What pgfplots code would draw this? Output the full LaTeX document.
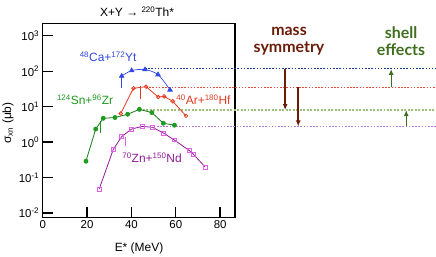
\documentclass[border=0pt]{standalone}
\usepackage{pgfplots}
\pgfplotsset{compat=1.18}
\usetikzlibrary{arrows.meta}
\usepackage{fontspec}
\setmainfont{Liberation Sans}
\newfontfamily\annfont{Lato}
\definecolor{cblue}{HTML}{3048E0}
\definecolor{cred}{HTML}{E23A22}
\definecolor{cgreen}{HTML}{1E9A1E}
\definecolor{cpurple}{HTML}{8E1A96}
\definecolor{cmag}{HTML}{E060E8}
\definecolor{dblue}{HTML}{1A3A9A}
\definecolor{dred}{HTML}{E84A3A}
\definecolor{dgreen}{HTML}{9CC078}
\definecolor{dpurple}{HTML}{B47AD8}
\definecolor{brown}{HTML}{6A1C08}
\definecolor{sgreen}{HTML}{3F6E1F}
\begin{document}
\begin{tikzpicture}[x=1bp,y=1bp]
\path[use as bounding box] (0,0) rectangle (436,256);
\begin{axis}[
  at={(42.7bp,38.7bp)}, anchor=south west,
  scale only axis, width=192.3bp, height=194bp,
  ymode=log, xmin=0, xmax=86.7, ymin=0.0076, ymax=2240,
  xtick={0,20,40,60,80},
  ytick={0.01,0.1,1,10,100,1000},
  yticklabels={10\textsuperscript{-2},10\textsuperscript{-1},10\textsuperscript{0},10\textsuperscript{1},10\textsuperscript{2},10\textsuperscript{3}},
  /pgf/number format/assume math mode=true,
  xticklabel style={font=\fontsize{11.5}{13}\selectfont},
  yticklabel style={font=\fontsize{11.5}{13}\selectfont},
  tick align=inside, tick pos=left,
  major tick length=10bp,
  every tick/.style={black, line width=1.3pt},
  minor tick num=0, log basis y=10,
  yminorticks=false,
  axis line style={line width=1.4pt},
  clip=false,
]
% error-bar like segments
\addplot[cblue, line width=0.7pt, forget plot] coordinates {(35.6,73) (35.6,33)};
\addplot[cred, line width=0.7pt, forget plot] coordinates {(44.2,39) (44.2,16.9)};
\addplot[cgreen, line width=0.7pt, forget plot] coordinates {(25.8,4.0) (25.8,1.8)};
\addplot[cmag, line width=0.7pt, forget plot] coordinates {(37.1,1.4) (37.1,0.8)};
% dotted reference levels
\addplot[dblue, line width=1pt, dash pattern=on 1.6pt off 1.6pt] coordinates {(46.1,116) (177.4,116)};
\addplot[dred, line width=1pt, dash pattern=on 1.6pt off 1.6pt] coordinates {(46.6,35.2) (177.4,35.2)};
\addplot[dgreen, line width=1.8pt, dash pattern=on 2pt off 1.5pt] coordinates {(43.6,8.05) (177.4,8.05)};
\addplot[dpurple, line width=0.6pt, dash pattern=on 1.6pt off 1.6pt] coordinates {(51.5,2.78) (177.4,2.78)};
% Ca + Yt
\addplot[cblue, line width=0.7pt, smooth, mark=triangle*, mark size=2.6pt, mark options={fill=cblue}]
  coordinates {(35.6,73) (40.1,104) (46.1,111) (52,80) (57.4,29.7)};
% Ar + Hf
\addplot[cred, line width=0.8pt, mark=o, mark size=1.8pt]
  coordinates {(35.2,6.4) (40.9,33) (46.6,36.6) (52.1,18.7) (54.7,19.5) (58.6,14.2) (64.6,5.5)};
% Sn + Zr
\addplot[cgreen!80!black, line width=0.8pt, mark=*, mark size=2pt, mark options={fill=cgreen, draw=cgreen}]
  coordinates {(19.5,0.29) (23.9,2.34) (27.3,4.7) (32.6,4.95) (38.3,6.1) (43.6,8.4) (49.2,6.8) (54.4,3.4) (59.4,3.0)};
% Zn + Nd
\addplot[cpurple, line width=0.8pt, mark=square, mark size=2pt, mark options={draw=cmag, line width=0.7pt}]
  coordinates {(25.5,0.048) (31.8,0.62) (35.6,1.43) (40.1,2.34) (44.9,2.78) (49.6,2.61) (54.4,1.81) (59.2,1.16) (66.1,0.58) (67.9,0.46) (73.2,0.20)};
% arrows
\draw[brown, line width=1.5pt, -{Latex[length=6bp,width=5bp]}] (axis cs:109.3,116) -- (axis cs:109.3,8.05);
\draw[brown, line width=1.5pt, -{Latex[length=6bp,width=5bp]}] (axis cs:115.2,35.2) -- (axis cs:115.2,2.78);
\draw[sgreen, line width=1.3pt, -{Latex[length=6bp,width=5bp]}] (axis cs:157.1,35.2) -- (axis cs:157.1,116);
\draw[sgreen, line width=1.3pt, -{Latex[length=6bp,width=5bp]}] (axis cs:163.9,2.78) -- (axis cs:163.9,8.05);
% labels
\node[cblue, font=\fontsize{12}{14}\selectfont] at (axis cs:29.5,252) {\textsuperscript{48}Ca+\textsuperscript{172}Yt};
\node[cgreen, font=\fontsize{12}{14}\selectfont] at (axis cs:19.1,15.8) {\textsuperscript{124}Sn+\textsuperscript{96}Zr};
\node[cred, font=\fontsize{12}{14}\selectfont] at (axis cs:72.5,15.5) {\textsuperscript{40}Ar+\textsuperscript{180}Hf};
\node[cpurple, font=\fontsize{12}{14}\selectfont] at (axis cs:49.3,0.36) {\textsuperscript{70}Zn+\textsuperscript{150}Nd};
\end{axis}
\node[font=\fontsize{12}{14}\selectfont] at (137,244) {X+Y → \textsuperscript{220}Th*};
\node[font=\fontsize{12}{14}\selectfont] at (139,8) {E* (MeV)};
\node[font=\fontsize{12}{14}\selectfont, rotate=90] at (8,133) {σ\textsubscript{xn} (μb)};
\node[brown, font=\annfont\bfseries\fontsize{16}{17}\selectfont, align=center] at (289,215) {mass\\symmetry};
\node[sgreen, font=\annfont\bfseries\fontsize{16}{17}\selectfont, align=center] at (401,215) {shell\\effects};
\end{tikzpicture}
\end{document}
